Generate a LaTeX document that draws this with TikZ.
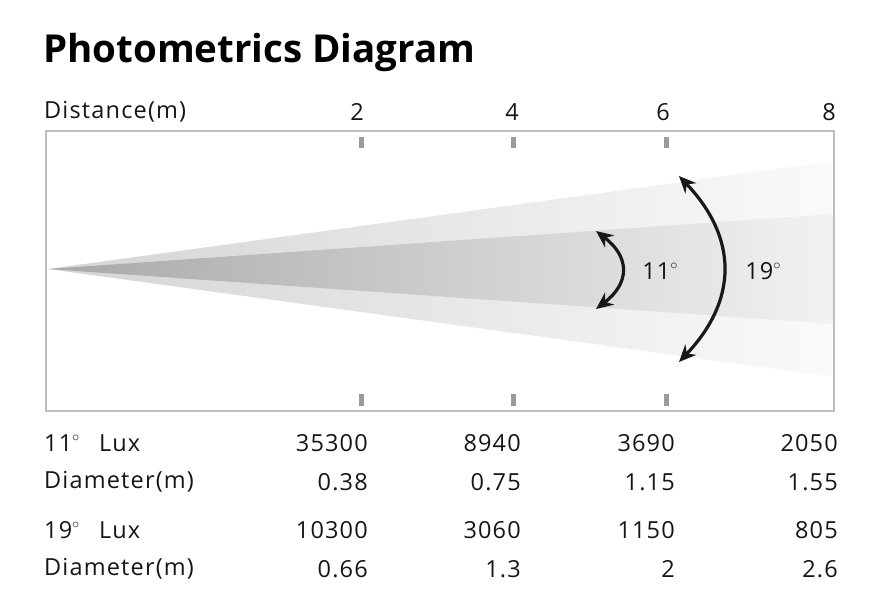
\documentclass[tikz,border=0pt]{standalone}
\usepackage{fontspec}
\setmainfont{Open Sans}[LetterSpace=5]
\newfontfamily\titlefont{Open Sans}[LetterSpace=0]
\usetikzlibrary{arrows.meta}
\definecolor{framegray}{RGB}{190,190,190}
\definecolor{tickgray}{RGB}{155,155,155}
\definecolor{arrowblack}{RGB}{30,22,22}
\definecolor{textblack}{RGB}{25,20,20}
\tikzset{
  lbl/.style={font=\fontsize{23.5}{26}\selectfont, text=textblack, inner sep=0pt},
  num/.style={lbl, anchor=east},
  rowlbl/.style={lbl, anchor=west},
  tick/.style={fill=tickgray, draw=none},
  beamarrow/.style={line width=3.2pt, draw=arrowblack, {Stealth[length=17pt,width=15pt]}-{Stealth[length=17pt,width=15pt]}},
}
\newcommand{\dg}{\raisebox{0.42em}{\fontsize{14}{14}\selectfont$\circ$}}
\begin{document}
\begin{tikzpicture}[x=1pt,y=-1pt]
\useasboundingbox (0,0) rectangle (881,603);
% beam
\shade[left color={rgb,255:red,212;green,212;blue,212}, right color={rgb,255:red,250;green,250;blue,250}]
  (48,269) -- (834,161) -- (834,377) -- cycle;
\shade[left color={rgb,255:red,168;green,168;blue,168}, right color={rgb,255:red,242;green,242;blue,242}]
  (48,269) -- (834,214) -- (834,324) -- cycle;
% frame
\draw[framegray, line width=1.4pt] (46,131) rectangle (834,411);
% ticks
\foreach \x in {361,513,666}{
  \fill[tick] (\x-2.5,137) rectangle (\x+2.5,148);
  \fill[tick] (\x-2.5,394) rectangle (\x+2.5,406);
}
% arrows
\coordinate (a11t) at (596,231);
\coordinate (a11b) at (596,309);
\coordinate (a19t) at (679,176);
\coordinate (a19b) at (679,362);
\draw[beamarrow] (a11t) .. controls (630,257) and (630,283) .. (a11b);
\draw[beamarrow] (a19t) .. controls (738,238) and (738,300) .. (a19b);
\node[lbl] (d11) at (660,271) {11\dg};
\node[lbl] (d19) at (763,271) {19\dg};
% title
\node[anchor=west, inner sep=0pt, font=\titlefont\bfseries\fontsize{38.5}{42}\selectfont, text=black] (title) at (43,52) {Photometrics Diagram};
% distance header
\node[rowlbl] (dist) at (44,112) {Distance(m)};
\node[lbl] (d2) at (357,112) {2};
\node[lbl] (d4) at (512,112) {4};
\node[lbl] (d6) at (663,112) {6};
\node[lbl] (d8) at (829,112) {8};
% table
\node[rowlbl] (r1) at (44,443) {11\dg\ \ \hspace{5pt}Lux};
\node[rowlbl] (r2) at (44,482) {Diameter(m)};
\node[rowlbl] (r3) at (44,530) {19\dg\ \ \hspace{5pt}Lux};
\node[rowlbl] (r4) at (44,569) {Diameter(m)};
\node[num] (c11) at (368,443) {35300};
\node[num] (c12) at (521,443) {8940};
\node[num] (c13) at (675,443) {3690};
\node[num] (c14) at (838,443) {2050};
\node[num] (c21) at (368,482) {0.38};
\node[num] (c22) at (521,482) {0.75};
\node[num] (c23) at (675,482) {1.15};
\node[num] (c24) at (838,482) {1.55};
\node[num] (c31) at (368,530) {10300};
\node[num] (c32) at (521,530) {3060};
\node[num] (c33) at (675,530) {1150};
\node[num] (c34) at (838,530) {805};
\node[num] (c41) at (368,569) {0.66};
\node[num] (c42) at (521,569) {1.3};
\node[num] (c43) at (675,569) {2};
\node[num] (c44) at (838,569) {2.6};
\end{tikzpicture}
\end{document}
